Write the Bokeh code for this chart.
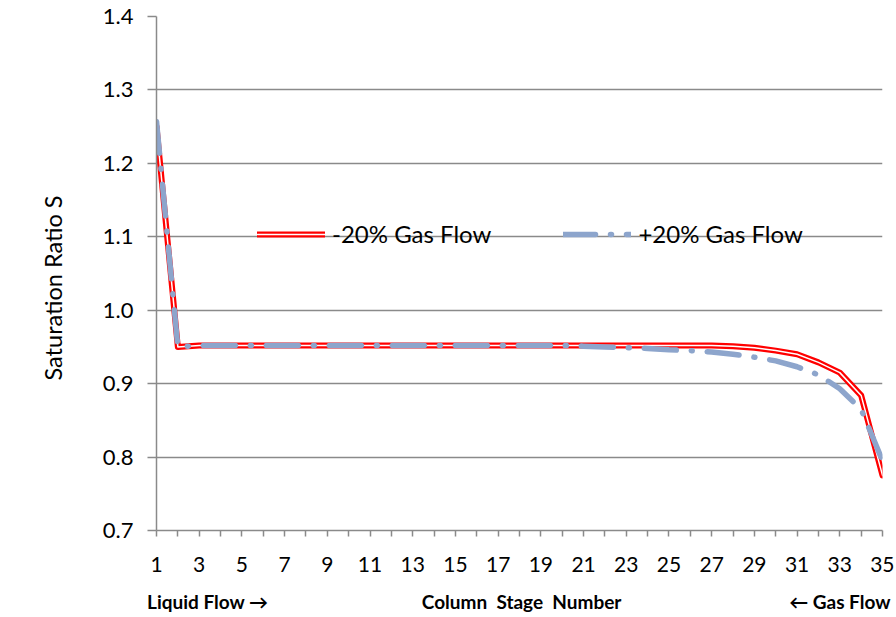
from bokeh.plotting import figure
from bokeh.models import (Range1d, FixedTicker, Legend, LegendItem, LinearAxis,
                          NumeralTickFormatter, Title)
from bokeh.embed import file_html
from bokeh.resources import INLINE

stages = list(range(1, 36))
minus20 = [1.250, 0.950, 0.952, 0.952, 0.952, 0.952, 0.952, 0.952, 0.952, 0.952,
           0.952, 0.952, 0.952, 0.952, 0.952, 0.952, 0.952, 0.952, 0.952, 0.952,
           0.952, 0.952, 0.952, 0.952, 0.952, 0.952, 0.952, 0.951, 0.949, 0.945,
           0.940, 0.929, 0.915, 0.884, 0.775]
plus20 = [1.257, 0.950, 0.952, 0.952, 0.952, 0.952, 0.952, 0.952, 0.952, 0.952,
          0.952, 0.952, 0.952, 0.952, 0.952, 0.952, 0.952, 0.952, 0.952, 0.952,
          0.951, 0.950, 0.949, 0.948, 0.946, 0.945, 0.943, 0.940, 0.936, 0.931,
          0.923, 0.912, 0.893, 0.865, 0.795]
y_ticks = [0.7, 0.8, 0.9, 1.0, 1.1, 1.2, 1.3, 1.4]
x_ticks = list(range(1, 36, 2))
x_minor = list(range(2, 36, 2))
labels = ["-20% Gas Flow", "+20% Gas Flow"]
y_title = "Saturation Ratio S"
bottom_pos = [3.4, 18.1, 33.0]
bottom_text = ["Liquid Flow \u2192", "Column\u00a0 Stage\u00a0 Number", "\u2190 Gas Flow"]

FONT = "Lato"
GRAY = "#8a8a8a"

p = figure(width=894, height=615, output_backend="svg", toolbar_location=None,
           x_range=Range1d(1, 35), y_range=Range1d(0.7, 1.4),
           min_border_left=156, min_border_right=12, min_border_top=16, min_border_bottom=83)
p.outline_line_color = None
p.xgrid.visible = False
p.ygrid.grid_line_color = GRAY
p.ygrid.grid_line_width = 1.5
p.ygrid.ticker = FixedTicker(ticks=y_ticks)

r_outer = p.line(stages, minus20, line_color="#ff0000", line_width=6, line_join="round", line_cap="round")
r_inner = p.line(stages, minus20, line_color="white", line_width=1.5, line_join="round", line_cap="round")
b = p.line(stages, plus20, line_color="#8da5cc", line_width=5.5, line_dash="32 15 1 15",
           line_cap="round", line_join="round")

# y axis
p.yaxis.ticker = FixedTicker(ticks=y_ticks)
p.yaxis.formatter = NumeralTickFormatter(format="0.0")
p.yaxis.axis_line_color = GRAY
p.yaxis.axis_line_width = 1.5
p.yaxis.major_tick_line_color = GRAY
p.yaxis.major_tick_line_width = 1.5
p.yaxis.major_tick_out = 9
p.yaxis.major_tick_in = 0
p.yaxis.minor_tick_line_color = None
p.yaxis.major_label_text_font = FONT
p.yaxis.major_label_text_font_size = "22px"
p.yaxis.major_label_text_color = "black"
p.yaxis.major_label_standoff = 14

# y title as a side title left of the axis
p.add_layout(Title(text=y_title, align="left", offset=150, standoff=65,
                   text_font=FONT, text_font_size="23.5px", text_font_style="normal",
                   text_color="black"), "left")

# x axis
p.xaxis.ticker = FixedTicker(ticks=x_ticks, minor_ticks=x_minor)
p.xaxis.axis_line_color = GRAY
p.xaxis.axis_line_width = 1.5
p.xaxis.major_tick_line_color = GRAY
p.xaxis.major_tick_line_width = 1.5
p.xaxis.major_tick_out = 6
p.xaxis.major_tick_in = 0
p.xaxis.minor_tick_line_color = GRAY
p.xaxis.minor_tick_line_width = 1.5
p.xaxis.minor_tick_out = 6
p.xaxis.minor_tick_in = 0
p.xaxis.major_label_text_font = FONT
p.xaxis.major_label_text_font_size = "21px"
p.xaxis.major_label_text_color = "black"
p.xaxis.major_label_standoff = 20

# second row of bottom texts
ax2 = LinearAxis(ticker=FixedTicker(ticks=bottom_pos),
                 major_label_overrides={k: v for k, v in zip(bottom_pos, bottom_text)},
                 axis_line_color=None, major_tick_line_color=None, minor_tick_line_color=None,
                 major_tick_out=0, major_tick_in=0, major_label_standoff=15,
                 major_label_text_font=FONT, major_label_text_font_size="19px",
                 major_label_text_font_style="bold", major_label_text_color="black")
p.add_layout(ax2, "below")

legend = Legend(items=[LegendItem(label=labels[0], renderers=[r_outer, r_inner]),
                       LegendItem(label=labels[1], renderers=[b])],
                orientation="horizontal", location=(101, 282),
                background_fill_alpha=0, border_line_color=None,
                label_text_font=FONT, label_text_font_size="24px", label_text_color="black",
                glyph_width=68, glyph_height=20, label_height=20, label_standoff=7,
                spacing=72, padding=0, margin=0)
p.add_layout(legend, "center")

open("out.html", "w").write(file_html(p, INLINE))
